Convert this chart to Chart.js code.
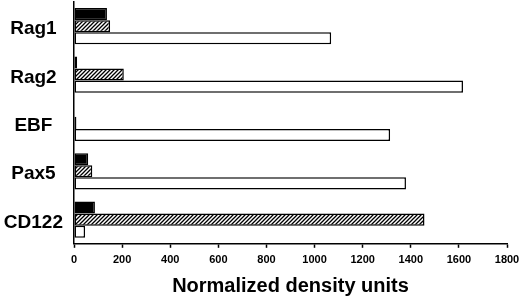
<!DOCTYPE html>
<html>
<head>
<meta charset="utf-8">
<script src="https://cdn.jsdelivr.net/npm/chart.js@4.4.1/dist/chart.umd.min.js"></script>
<style>
  html, body { margin: 0; padding: 0; background: #fff; }
  #wrap { width: 520px; height: 300px; position: relative; }
</style>
</head>
<body>
<div id="wrap"><canvas id="c"></canvas></div>
<script>
const categories = ['Rag1', 'Rag2', 'EBF', 'Pax5', 'CD122'];
const blackValues = [137, 13, 0, 59, 87];
const hatchedValues = [150, 207, 10, 76, 1457];
const whiteValues = [1069, 1617, 1314, 1380, 46];
const xTicks = [0, 200, 400, 600, 800, 1000, 1200, 1400, 1600, 1800];
const xTitle = 'Normalized density units';

function hatch() {
  const c = document.createElement('canvas');
  c.width = 4; c.height = 4;
  const x = c.getContext('2d');
  x.fillStyle = '#fff'; x.fillRect(0, 0, 4, 4);
  x.strokeStyle = '#000'; x.lineWidth = 1.3;
  x.beginPath();
  x.moveTo(0, 4); x.lineTo(4, 0);
  x.moveTo(-1, 1); x.lineTo(1, -1);
  x.moveTo(3, 5); x.lineTo(5, 3);
  x.stroke();
  return x.createPattern(c, 'repeat');
}

const bold = 'Arial, "Liberation Sans", sans-serif';

new Chart(document.getElementById('c'), {
  type: 'bar',
  data: {
    labels: categories,
    datasets: [
      { data: blackValues, backgroundColor: '#000', borderColor: '#000', borderWidth: 1.5, borderSkipped: false },
      { data: hatchedValues, backgroundColor: hatch(), borderColor: '#000', borderWidth: 1.5, borderSkipped: false },
      { data: whiteValues, backgroundColor: '#fff', borderColor: '#000', borderWidth: 1.5, borderSkipped: false }
    ]
  },
  options: {
    indexAxis: 'y',
    responsive: true,
    maintainAspectRatio: false,
    animation: false,
    categoryPercentage: 0.75,
    barPercentage: 1.0,
    layout: { padding: { top: 2, right: 0, bottom: 2, left: 4 } },
    plugins: { legend: { display: false }, tooltip: { enabled: false } },
    scales: {
      x: {
        min: 0, max: 1800,
        afterBuildTicks: (axis) => { axis.ticks = xTicks.map(v => ({ value: v })); },
        afterFit: (axis) => { axis.paddingLeft = 0; axis.paddingRight = 13; },
        grid: { drawOnChartArea: false, drawTicks: true, tickLength: 4, color: '#000', tickWidth: 1.5 },
        border: { color: '#000', width: 1.5 },
        ticks: { color: '#000', padding: 6, maxRotation: 0, autoSkip: false, callback: (v) => String(v), font: { family: bold, size: 11, weight: 'bold' } },
        title: { display: true, text: xTitle, color: '#000', padding: { top: 1, bottom: 0 }, font: { family: bold, size: 20, weight: 'bold' } }
      },
      y: {
        afterFit: (axis) => { axis.width = 70; axis.paddingTop = 0; axis.paddingBottom = 0; },
        grid: { drawOnChartArea: false, drawTicks: false },
        border: { color: '#000', width: 1.5 },
        ticks: { color: '#000', padding: 11, labelOffset: 3, crossAlign: 'center', font: { family: bold, size: 19, weight: 'bold' } }
      }
    }
  }
});
</script>
</body>
</html>
